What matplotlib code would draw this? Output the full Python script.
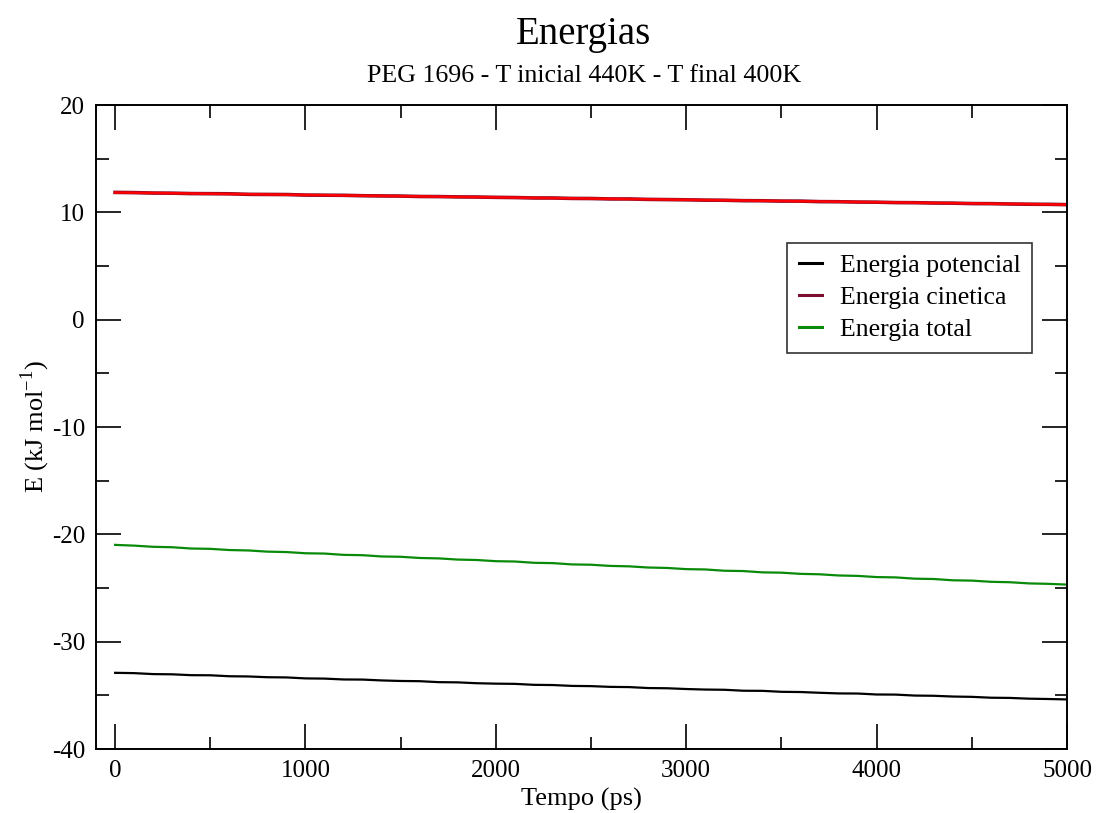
import numpy as np
import matplotlib
matplotlib.use("Agg")
import matplotlib.pyplot as plt
from matplotlib.ticker import MultipleLocator

# time axis (ps), one sample every 100 ps
tempo = np.arange(0, 5001, 100)

e_potencial = [
    -32.90, -32.93, -33.02, -33.04, -33.12, -33.13, -33.22, -33.24, -33.31, -33.33,
    -33.42, -33.44, -33.52, -33.53, -33.61, -33.66, -33.68, -33.77, -33.79, -33.87,
    -33.91, -33.93, -34.02, -34.04, -34.12, -34.14, -34.21, -34.23, -34.32, -34.34,
    -34.41, -34.46, -34.48, -34.57, -34.58, -34.67, -34.69, -34.76, -34.82, -34.83,
    -34.92, -34.93, -35.02, -35.04, -35.11, -35.14, -35.22, -35.24, -35.31, -35.34,
    -35.38,
]

e_cinetica = [
    11.86, 11.84, 11.80, 11.79, 11.75, 11.74, 11.73, 11.68, 11.67, 11.66,
    11.61, 11.60, 11.59, 11.55, 11.53, 11.52, 11.48, 11.47, 11.44, 11.43,
    11.40, 11.38, 11.34, 11.34, 11.30, 11.29, 11.25, 11.25, 11.21, 11.19,
    11.17, 11.14, 11.13, 11.09, 11.08, 11.05, 11.05, 11.00, 10.99, 10.96,
    10.95, 10.91, 10.90, 10.87, 10.86, 10.82, 10.81, 10.78, 10.76, 10.75,
    10.72,
]

e_total = [
    -20.98, -21.05, -21.16, -21.20, -21.32, -21.35, -21.46, -21.50, -21.61, -21.65,
    -21.76, -21.79, -21.91, -21.94, -22.06, -22.09, -22.20, -22.24, -22.35, -22.39,
    -22.50, -22.53, -22.65, -22.68, -22.80, -22.83, -22.94, -22.98, -23.09, -23.13,
    -23.24, -23.27, -23.39, -23.42, -23.54, -23.57, -23.68, -23.72, -23.83, -23.87,
    -23.98, -24.01, -24.13, -24.16, -24.28, -24.31, -24.42, -24.46, -24.57, -24.61,
    -24.68,
]

# red overlay on the kinetic curve (start / end values)
cinetica_ref_t = [0, 5000]
cinetica_ref_e = [11.85, 10.72]

plt.rcParams["font.family"] = ["Liberation Serif", "DejaVu Serif"]
plt.rcParams["mathtext.fontset"] = "custom"
plt.rcParams["mathtext.rm"] = "Liberation Serif"
plt.rcParams["axes.unicode_minus"] = False

fig = plt.figure(figsize=(10.99, 8.13), dpi=100)
ax = fig.add_axes([0.0874, 0.0787, 0.8835, 0.7921])

ax.plot(tempo, e_potencial, color="black", lw=1.6, label="Energia potencial")
ax.plot(tempo, e_cinetica, color="#7d1030", lw=2.6, label="Energia cinetica")
ax.plot(cinetica_ref_t, cinetica_ref_e, color="red", lw=1.8)
ax.plot(tempo, e_total, color="#0a8a0a", lw=1.6, label="Energia total")

ax.set_xlim(-100, 5000)
ax.set_ylim(-40, 20)
ax.xaxis.set_major_locator(MultipleLocator(1000))
ax.xaxis.set_minor_locator(MultipleLocator(500))
ax.yaxis.set_major_locator(MultipleLocator(10))
ax.yaxis.set_minor_locator(MultipleLocator(5))
ax.tick_params(which="both", direction="in", top=True, right=True, labelsize=18, width=1.2)
ax.tick_params(which="major", length=18, pad=8)
ax.tick_params(which="minor", length=9)
for s in ax.spines.values():
    s.set_linewidth(1.4)

ax.set_xlabel("Tempo (ps)", fontsize=19, labelpad=4)
ax.set_ylabel("E (kJ mol$^{-1}$)", fontsize=19, labelpad=0)

fig.text(0.531, 0.958, "Energias", ha="center", va="center", fontsize=28)
fig.text(0.531, 0.907, "PEG 1696 - T inicial 440K - T final 400K", ha="center", va="center", fontsize=18.7)

leg = ax.legend(loc="upper left", bbox_to_anchor=(0.712, 0.786), fontsize=18.5, frameon=True,
                fancybox=False, edgecolor="black", handlelength=0.9, handletextpad=0.7,
                borderpad=0.45, labelspacing=0.35, borderaxespad=0)
leg.get_frame().set_linewidth(1.2)
for h in leg.get_lines():
    h.set_linewidth(2.2)

fig.savefig("out.png", dpi=100)
